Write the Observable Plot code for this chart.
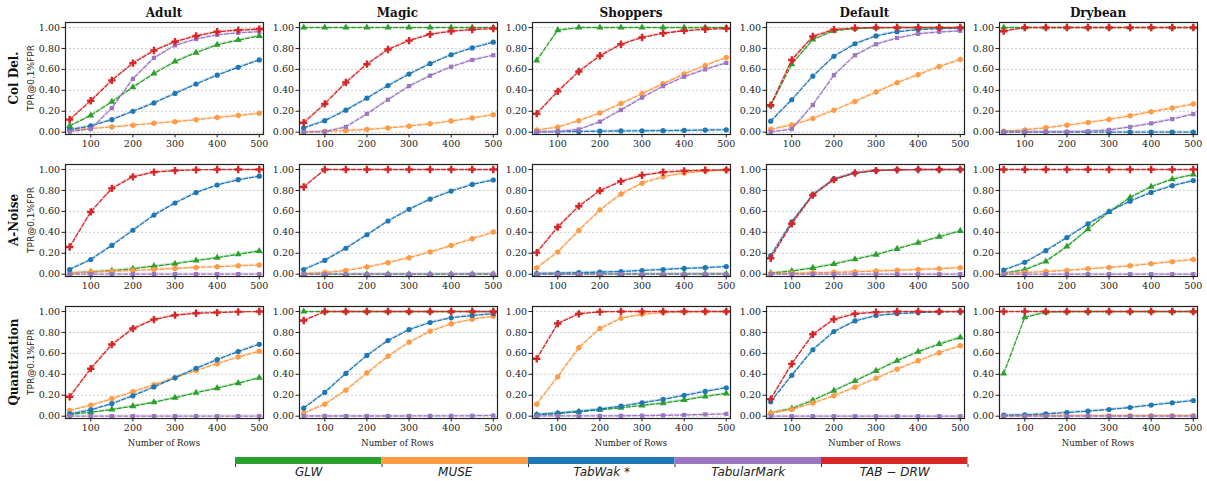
<!DOCTYPE html>
<html><head><meta charset="utf-8">
<script src="https://cdn.jsdelivr.net/npm/d3@7"></script>
<script src="https://cdn.jsdelivr.net/npm/@observablehq/plot@0.6"></script>
<style>
body{margin:0;background:#fff;}
#chart{position:relative;width:1207px;height:481px;overflow:hidden;background:#fff;}
#chart svg{position:absolute;}
.ttl{position:absolute;font-family:"DejaVu Serif";font-weight:bold;font-size:12px;color:#111;white-space:nowrap;transform:translate(-50%,-50%);}
.rl{position:absolute;font-family:"DejaVu Serif";font-weight:bold;font-size:12px;color:#111;white-space:nowrap;transform:translate(-50%,-50%) rotate(-90deg);}
.yl{position:absolute;font-family:"DejaVu Sans";font-size:9px;color:#222;white-space:nowrap;transform:translate(-50%,-50%) rotate(-90deg);}
.xl{position:absolute;font-family:"DejaVu Serif";font-size:8.5px;color:#222;white-space:nowrap;transform:translate(-50%,-50%);}
</style></head>
<body><div id="chart"></div>
<script>
const rowsX = [50,100,150,200,250,300,350,400,450,500];
const methods = ["GLW","MUSE","TabWak *","TabularMark","TAB − DRW"];
const methodColors = ["#2ca02c","#ff9a45","#1f77b4","#9d76c1","#d62728"];
const methodSymbols = ["triangle","hexagon","circle","square","cross"];
const datasets = ["Adult","Magic","Shoppers","Default","Drybean"];
const attacks = ["Col Del.","A-Noise","Quantization"];
const yTicks = [0,0.2,0.4,0.6,0.8,1.0];
const xTicks = [100,200,300,400,500];
const bandHalfWidth = 0.012;

// ---- Col Del. ----
const colDelAdult = {
  GLW:[0.06,0.16,0.29,0.43,0.56,0.675,0.76,0.835,0.88,0.92],
  MUSE:[0.02,0.035,0.05,0.067,0.085,0.10,0.12,0.14,0.16,0.18],
  TabWak:[0.025,0.06,0.12,0.20,0.28,0.37,0.46,0.545,0.62,0.69],
  TabularMark:[0.005,0.03,0.23,0.51,0.71,0.83,0.89,0.93,0.95,0.96],
  TABDRW:[0.12,0.30,0.495,0.66,0.78,0.865,0.92,0.96,0.975,0.985]};
const colDelMagic = {
  GLW:[1,1,1,1,1,1,1,1,1,1],
  MUSE:[0.003,0.006,0.016,0.026,0.04,0.058,0.08,0.106,0.135,0.167],
  TabWak:[0.04,0.11,0.21,0.325,0.445,0.555,0.655,0.74,0.805,0.86],
  TabularMark:[0.0,0.005,0.05,0.175,0.31,0.44,0.54,0.625,0.69,0.735],
  TABDRW:[0.09,0.27,0.475,0.65,0.79,0.875,0.935,0.965,0.98,0.99]};
const colDelShoppers = {
  GLW:[0.685,0.975,1,1,1,1,1,1,1,1],
  MUSE:[0.02,0.048,0.11,0.183,0.273,0.367,0.463,0.556,0.637,0.714],
  TabWak:[0.002,0.005,0.007,0.01,0.012,0.013,0.015,0.017,0.02,0.023],
  TabularMark:[0.003,0.006,0.026,0.10,0.212,0.33,0.44,0.53,0.60,0.662],
  TABDRW:[0.177,0.39,0.58,0.73,0.84,0.905,0.945,0.97,0.983,0.99]};
const colDelDefault = {
  GLW:[0.255,0.65,0.885,0.97,0.99,0.997,1,1,1,1],
  MUSE:[0.027,0.068,0.13,0.21,0.293,0.383,0.473,0.55,0.627,0.695],
  TabWak:[0.105,0.31,0.535,0.725,0.845,0.92,0.96,0.98,0.99,0.995],
  TabularMark:[0.002,0.03,0.26,0.545,0.735,0.84,0.90,0.94,0.958,0.968],
  TABDRW:[0.257,0.69,0.915,0.98,0.995,1,1,1,1,1]};
const colDelDrybean = {
  GLW:[1,1,1,1,1,1,1,1,1,1],
  MUSE:[0.01,0.022,0.042,0.067,0.093,0.122,0.157,0.196,0.23,0.27],
  TabWak:[0.001,0.001,0.001,0.001,0.001,0.001,0.001,0.001,0.001,0.001],
  TabularMark:[0.003,0.003,0.003,0.003,0.008,0.022,0.05,0.084,0.125,0.173],
  TABDRW:[0.965,1,1,1,1,1,1,1,1,1]};

// ---- A-Noise ----
const aNoiseAdult = {
  GLW:[0.01,0.022,0.035,0.052,0.077,0.10,0.13,0.158,0.19,0.222],
  MUSE:[0.013,0.02,0.028,0.035,0.045,0.055,0.065,0.072,0.08,0.088],
  TabWak:[0.045,0.14,0.275,0.42,0.565,0.68,0.78,0.852,0.903,0.936],
  TabularMark:[0.001,0.001,0.001,0.001,0.001,0.001,0.001,0.001,0.001,0.001],
  TABDRW:[0.26,0.595,0.82,0.93,0.975,0.99,0.997,1,1,1]};
const aNoiseMagic = {
  GLW:[0,0,0,0,0,0,0,0,0,0],
  MUSE:[0.006,0.016,0.035,0.068,0.11,0.158,0.212,0.273,0.338,0.402],
  TabWak:[0.045,0.132,0.248,0.377,0.508,0.62,0.717,0.794,0.858,0.9],
  TabularMark:[0,0,0,0,0,0,0,0.001,0.003,0.004],
  TABDRW:[0.833,1,1,1,1,1,1,1,1,1]};
const aNoiseShoppers = {
  GLW:[0.001,0.001,0.002,0.002,0.003,0.003,0.003,0.003,0.004,0.004],
  MUSE:[0.06,0.212,0.418,0.614,0.765,0.87,0.932,0.967,0.987,0.994],
  TabWak:[0.006,0.01,0.015,0.02,0.026,0.035,0.045,0.055,0.062,0.073],
  TabularMark:[0,0,0,0,0,0,0,0,0,0],
  TABDRW:[0.206,0.45,0.65,0.797,0.887,0.945,0.974,0.987,0.994,0.997]};
const aNoiseDefault = {
  GLW:[0.012,0.03,0.06,0.097,0.142,0.187,0.242,0.30,0.357,0.414],
  MUSE:[0.005,0.009,0.013,0.018,0.023,0.03,0.037,0.045,0.053,0.062],
  TabWak:[0.177,0.5,0.76,0.91,0.967,0.99,0.997,1,1,1],
  TabularMark:[0,0,0,0,0,0,0,0,0,0],
  TABDRW:[0.152,0.482,0.755,0.903,0.967,0.99,0.997,1,1,1]};
const aNoiseDrybean = {
  GLW:[0.01,0.042,0.122,0.264,0.43,0.594,0.733,0.836,0.907,0.952],
  MUSE:[0.01,0.016,0.026,0.036,0.051,0.064,0.08,0.10,0.12,0.141],
  TabWak:[0.039,0.113,0.225,0.35,0.48,0.598,0.698,0.781,0.846,0.894],
  TabularMark:[0,0,0,0,0,0,0,0,0,0],
  TABDRW:[1,1,1,1,1,1,1,1,1,1]};

// ---- Quantization ----
const quantAdult = {
  GLW:[0.016,0.038,0.064,0.096,0.134,0.176,0.224,0.268,0.316,0.367],
  MUSE:[0.055,0.105,0.166,0.233,0.30,0.367,0.437,0.502,0.565,0.62],
  TabWak:[0.022,0.06,0.12,0.195,0.28,0.367,0.457,0.54,0.617,0.687],
  TabularMark:[0.001,0.001,0.001,0.001,0.001,0.001,0.001,0.001,0.001,0.001],
  TABDRW:[0.185,0.454,0.684,0.837,0.923,0.965,0.984,0.99,0.997,1]};
const quantMagic = {
  GLW:[1,1,1,1,1,1,1,1,1,1],
  MUSE:[0.029,0.115,0.249,0.412,0.572,0.706,0.811,0.882,0.927,0.955],
  TabWak:[0.077,0.227,0.409,0.581,0.722,0.827,0.895,0.94,0.962,0.978],
  TabularMark:[0.002,0.002,0.002,0.002,0.002,0.002,0.003,0.003,0.004,0.006],
  TABDRW:[0.914,1,1,1,1,1,1,1,1,1]};
const quantShoppers = {
  GLW:[0.013,0.026,0.042,0.061,0.08,0.103,0.125,0.154,0.189,0.218],
  MUSE:[0.115,0.378,0.654,0.837,0.936,0.974,0.99,0.997,1,1],
  TabWak:[0.016,0.029,0.045,0.067,0.096,0.128,0.16,0.199,0.237,0.272],
  TabularMark:[0.003,0.003,0.003,0.003,0.004,0.005,0.008,0.012,0.017,0.022],
  TABDRW:[0.548,0.885,0.978,0.997,1,1,1,1,1,1]};
const quantDefault = {
  GLW:[0.03,0.074,0.151,0.244,0.337,0.433,0.529,0.615,0.689,0.753],
  MUSE:[0.03,0.064,0.125,0.196,0.276,0.362,0.449,0.529,0.606,0.673],
  TabWak:[0.138,0.391,0.635,0.808,0.91,0.962,0.98,0.99,0.997,1],
  TabularMark:[0,0,0,0,0,0,0,0,0,0],
  TABDRW:[0.163,0.5,0.782,0.926,0.978,0.994,1,1,1,1]};
const quantDrybean = {
  GLW:[0.407,0.945,0.994,1,1,1,1,1,1,1],
  MUSE:[0.005,0.005,0.005,0.005,0.005,0.005,0.005,0.005,0.005,0.005],
  TabWak:[0.01,0.013,0.022,0.035,0.048,0.064,0.083,0.106,0.128,0.15],
  TabularMark:[0.001,0.001,0.001,0.001,0.001,0.001,0.001,0.001,0.001,0.001],
  TABDRW:[1,1,1,1,1,1,1,1,1,1]};

const panels = [
  [colDelAdult, colDelMagic, colDelShoppers, colDelDefault, colDelDrybean],
  [aNoiseAdult, aNoiseMagic, aNoiseShoppers, aNoiseDefault, aNoiseDrybean],
  [quantAdult, quantMagic, quantShoppers, quantDefault, quantDrybean]
];
const seriesKeys = ["GLW","MUSE","TabWak","TabularMark","TABDRW"];

const chart = document.getElementById("chart");
const FW = 198, FH = 112, ML = 45, MR = 8, MT = 8, MB = 28;
const colLeft = c => 65 + 233.5 * c;
const rowTop = [21.5, 164, 306];

function add(el, left, top) { el.style.left = left + "px"; el.style.top = top + "px"; chart.appendChild(el); }
function label(cls, text, x, y) { const d = document.createElement("div"); d.className = cls; d.textContent = text; add(d, x, y); }

for (let r = 0; r < 3; r++) {
  for (let c = 0; c < 5; c++) {
    const p = panels[r][c];
    const table = [];
    seriesKeys.forEach((k, si) => p[k].forEach((v, i) => table.push({m: si, x: rowsX[i], y: v,
      lo: Math.max(0, v - bandHalfWidth), hi: Math.min(1, v + bandHalfWidth)})));
    const marks = [Plot.gridY(yTicks, {stroke: "#b0b0b0", strokeOpacity: 0.8, strokeDasharray: "2,2", strokeWidth: 0.8})];
    seriesKeys.forEach((k, si) => {
      const d = table.filter(t => t.m === si);
      marks.push(Plot.areaY(d, {x: "x", y1: "lo", y2: "hi", fill: methodColors[si], fillOpacity: 0.2}));
      marks.push(Plot.line(d, {x: "x", y: "y", stroke: methodColors[si], strokeWidth: 1.3, strokeDasharray: "4,2"}));
      marks.push(Plot.dot(d, {x: "x", y: "y", symbol: () => methodSymbols[si], fill: methodColors[si], stroke: "none",
        r: si === 4 ? 3.1 : (si === 3 ? 2.4 : 2.6)}));
    });
    marks.push(Plot.axisY(yTicks, {tickSize: 3.5, tickPadding: 2, tickFormat: d3.format(".2f"), fontSize: 9.5, stroke: "#222"}));
    marks.push(Plot.axisX(xTicks, {tickSize: 3.5, tickPadding: 2, fontSize: 9.5, stroke: "#222"}));
    marks.push(Plot.frame({stroke: "#222", strokeWidth: 1.2}));
    const svg = Plot.plot({
      width: FW + ML + MR, height: FH + MT + MB,
      marginLeft: ML, marginRight: MR, marginTop: MT, marginBottom: MB,
      x: {domain: [40, 510], label: null},
      y: {domain: [-0.022, 1.048], label: null},
      symbol: {type: "identity"},
      style: {background: "transparent", overflow: "visible", fontFamily: "DejaVu Serif", color: "#222"},
      marks
    });
    add(svg, colLeft(c) - ML, rowTop[r] - MT);
  }
}

datasets.forEach((name, c) => label("ttl", name, colLeft(c) + FW / 2, 13));
attacks.forEach((name, r) => {
  label("rl", name, 14, rowTop[r] + FH / 2);
  label("yl", "TPR@0.1%FPR", 31, rowTop[r] + FH / 2);
});
datasets.forEach((name, c) => label("xl", "Number of Rows", colLeft(c) + FW / 2, 443));

// legend
const legendIdx = [0,1,2,3,4];
const LL = 235, LR = 967.5;
const legend = Plot.plot({
  width: 1207, height: 36, marginLeft: LL, marginRight: 1207 - LR, marginTop: 0, marginBottom: 29,
  x: {domain: [0, 5], label: null},
  y: {domain: [0, 1], axis: null},
  style: {background: "transparent", overflow: "visible", fontFamily: "DejaVu Sans", color: "#222"},
  marks: [
    Plot.rect(legendIdx, {x1: i => i, x2: i => i + 1, y1: 0, y2: 1, fill: i => methodColors[i]}),
    Plot.axisX([0,1,2,3,4,5], {tickSize: 3, tickFormat: () => "", stroke: "#333"}),
    Plot.axisX([0.5,1.5,2.5,3.5,4.5], {tickSize: 0, tickPadding: 3, fontSize: 12, fontStyle: "italic",
      tickFormat: v => methods[Math.floor(v)]})
  ]
});
add(legend, 0, 457);
</script></body></html>
